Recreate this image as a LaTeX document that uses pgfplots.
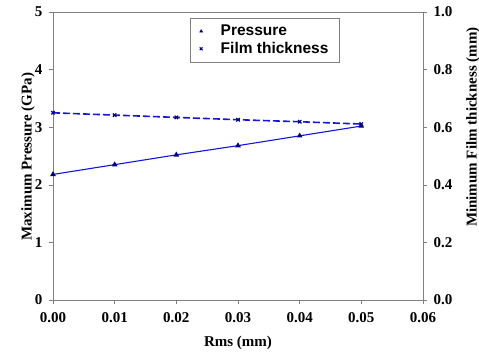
\documentclass[border=0pt]{standalone}
\usepackage{pgfplots}
\pgfplotsset{compat=1.18}
\usepackage{fontspec}
\setmainfont{Liberation Serif}
\newfontfamily\legfont{Liberation Sans}
\definecolor{lineblue}{RGB}{20,20,230}
\definecolor{navy}{RGB}{0,0,128}
\definecolor{axgray}{RGB}{128,128,128}
\begin{document}
\begin{tikzpicture}
\path[use as bounding box] (-53pt,-54pt) rectangle (426pt,300pt);
\pgfplotsset{
  common/.style={
    scale only axis, width=370pt, height=288pt,
    xmin=0, xmax=0.06,
    xtick={0,0.01,0.02,0.03,0.04,0.05,0.06},
    scaled x ticks=false, scaled y ticks=false,
    tick align=outside, tick style={axgray, thin},
    axis line style={axgray, thin},
    major tick length=4pt,
    tick label style={font=\fontsize{15}{17}\selectfont\bfseries},
    label style={font=\fontsize{15}{17}\selectfont\bfseries},
    /pgf/number format/assume math mode=true,
  }
}
\begin{axis}[common,
  axis x line*=bottom, axis y line*=left,
  ymin=0, ymax=5, ytick={0,1,2,3,4,5},
  xticklabel style={yshift=-5pt, /pgf/number format/fixed, /pgf/number format/fixed zerofill, /pgf/number format/precision=2},
  yticklabel style={xshift=-3pt, /pgf/number format/fixed, /pgf/number format/precision=0},
  xlabel={Rms (mm)},
  ylabel={Maximum Pressure (GPa)},
  xlabel style={at={(axis description cs:0.5,-0.149)}, anchor=center},
  ylabel style={at={(axis description cs:-0.0676,0.497)}, anchor=center},
]
\draw[axgray, thin] (rel axis cs:0,1) -- (rel axis cs:1,1);
\addplot[lineblue, line width=1.1pt, mark=triangle*, mark options={navy, solid, scale=1.1}]
  coordinates {(0,2.18) (0.01,2.35) (0.02,2.52) (0.03,2.68) (0.04,2.85) (0.05,3.02)};
\end{axis}
\begin{axis}[common,
  axis x line=none, axis y line*=right,
  ymin=0, ymax=1, ytick={0,0.2,0.4,0.6,0.8,1.0},
  yticklabel style={xshift=3pt, /pgf/number format/fixed, /pgf/number format/fixed zerofill, /pgf/number format/precision=1},
  ylabel={Minimum Film thickness (mm)},
  ylabel style={at={(axis description cs:1.135,0.6)}, anchor=center},
  legend style={at={(0.573,0.979)}, anchor=north, draw=axgray, thin,
    font=\legfont\fontsize{15.5}{17}\selectfont\bfseries,
    row sep=1pt, column sep=16pt, inner xsep=9pt, inner ysep=5pt},
  legend cell align=left,
]
\addlegendimage{only marks, mark=triangle*, navy, mark options={scale=0.9}}
\addlegendentry{Pressure}
\addplot[lineblue, line width=1.6pt, dash pattern=on 7pt off 3pt, mark=x, mark options={navy, solid, line width=1.2pt, scale=1.2}, forget plot]
  coordinates {(0,0.650) (0.01,0.642) (0.02,0.634) (0.03,0.626) (0.04,0.619) (0.05,0.611)};
\addlegendimage{only marks, mark=x, navy, mark options={line width=1pt}}
\addlegendentry{Film thickness}
\end{axis}
\end{tikzpicture}
\end{document}
